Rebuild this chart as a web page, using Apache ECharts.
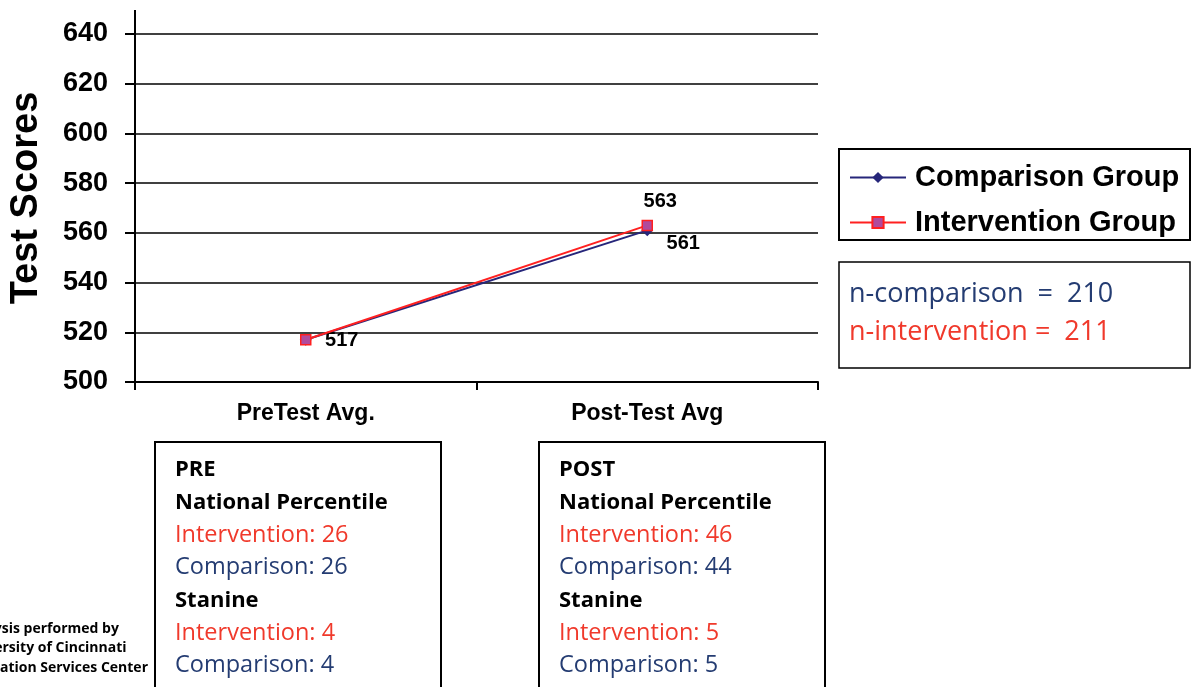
<!DOCTYPE html>
<html><head><meta charset="utf-8">
<script src="https://cdn.jsdelivr.net/npm/echarts@6/dist/echarts.min.js"></script>
<style>html,body{margin:0;padding:0;background:#fff}#c{width:1192px;height:687px}</style>
</head><body><div id="c"></div>
<script>
const categories = ['PreTest Avg.', 'Post-Test Avg'];
const comparison = [517, 561];
const intervention = [517, 563];
const yTicks = {min: 500, max: 640, interval: 20};
const nComparison = 210;
const nIntervention = 211;
const prePercentile = {intervention: 26, comparison: 26};
const preStanine = {intervention: 4, comparison: 4};
const postPercentile = {intervention: 46, comparison: 44};
const postStanine = {intervention: 5, comparison: 5};

const NAVY = '#243c72';
const RED = '#f0392b';
const bodyFont = '"Open Sans", "Noto Sans", sans-serif';
const arial = 'Arial, "Liberation Sans", sans-serif';

function measure(text, font) {
  const ctx = document.createElement('canvas').getContext('2d');
  ctx.font = font;
  return ctx.measureText(text).width;
}

function boxGraphic(x, title, pct, stn) {
  const lines = [
    {t: title, c: '#000', w: 'bold', s: 22},
    {t: 'National Percentile', c: '#000', w: 'bold', s: 22},
    {t: 'Intervention: ' + pct.intervention, c: RED, w: 'normal', s: 23.5},
    {t: 'Comparison: ' + pct.comparison, c: NAVY, w: 'normal', s: 23.5},
    {t: 'Stanine', c: '#000', w: 'bold', s: 22},
    {t: 'Intervention: ' + stn.intervention, c: RED, w: 'normal', s: 23.5},
    {t: 'Comparison: ' + stn.comparison, c: NAVY, w: 'normal', s: 23.5}
  ];
  const els = [{type: 'rect', shape: {x: x, y: 442, width: 286, height: 270}, style: {fill: '#fff', stroke: '#000', lineWidth: 2}}];
  lines.forEach((l, i) => {
    els.push({type: 'text', x: x + 20, y: 470 + i * 32.6, style: {text: l.t, fill: l.c, font: l.w + ' ' + l.s + 'px ' + bodyFont, textVerticalAlign: 'middle'}});
  });
  return els;
}

const creditFont = 'bold 14px ' + bodyFont;
const creditX = 148 - measure('Evaluation Services Center', creditFont);

const chart = echarts.init(document.getElementById('c'));
chart.setOption({
  animation: false,
  grid: {left: 135, right: 374, top: 34, bottom: 305},
  legend: {
    orient: 'vertical', left: 849, top: 163,
    padding: 0, itemGap: 16, itemWidth: 56, itemHeight: 14,
    textStyle: {fontFamily: arial, fontWeight: 'bold', fontSize: 29, color: '#000', padding: [0, 0, 0, 4]},
    data: ['Comparison Group', 'Intervention Group']
  },
  xAxis: {
    type: 'category', data: categories, boundaryGap: true,
    axisLine: {lineStyle: {color: '#000', width: 2}},
    axisTick: {show: true, length: 8, lineStyle: {color: '#000', width: 2}},
    axisLabel: {color: '#000', fontFamily: arial, fontWeight: 'bold', fontSize: 23, margin: 20}
  },
  yAxis: {
    type: 'value', min: yTicks.min, max: yTicks.max, interval: yTicks.interval,
    axisLine: {show: true, lineStyle: {color: '#000', width: 2}},
    axisTick: {show: true, length: 10, lineStyle: {color: '#000', width: 2}},
    splitLine: {show: true, lineStyle: {color: '#000', width: 1.5}},
    axisLabel: {color: '#000', fontFamily: arial, fontWeight: 'bold', fontSize: 27, margin: 27}
  },
  graphic: [
    {type: 'line', shape: {x1: 135, y1: 10, x2: 135, y2: 35}, style: {stroke: '#000', lineWidth: 2}},
    {type: 'text', x: 27, y: 198, rotation: Math.PI / 2, style: {text: 'Test Scores', font: 'bold 38px ' + arial, fill: '#000', textAlign: 'center', textVerticalAlign: 'middle'}},
    {type: 'rect', shape: {x: 839, y: 149, width: 351, height: 91}, style: {fill: 'none', stroke: '#000', lineWidth: 2}},
    {type: 'rect', shape: {x: 839, y: 262, width: 351, height: 106}, style: {fill: '#fff', stroke: '#000', lineWidth: 1.5}},
    {type: 'text', x: 849, y: 294, style: {text: 'n-comparison  =  ' + nComparison, fill: NAVY, font: '27px ' + bodyFont, textVerticalAlign: 'middle'}},
    {type: 'text', x: 849, y: 332, style: {text: 'n-intervention =  ' + nIntervention, fill: RED, font: '27px ' + bodyFont, textVerticalAlign: 'middle'}},
    {type: 'text', x: creditX, y: 629, style: {text: 'Analysis performed by', fill: '#000', font: creditFont, textAlign: 'left', textVerticalAlign: 'middle'}},
    {type: 'text', x: creditX, y: 648, style: {text: 'University of Cincinnati', fill: '#000', font: creditFont, textAlign: 'left', textVerticalAlign: 'middle'}},
    {type: 'text', x: creditX, y: 668, style: {text: 'Evaluation Services Center', fill: '#000', font: creditFont, textAlign: 'left', textVerticalAlign: 'middle'}}
  ].concat(boxGraphic(155, 'PRE', prePercentile, preStanine), boxGraphic(539, 'POST', postPercentile, postStanine)),
  series: [
    {
      name: 'Comparison Group', type: 'line', data: comparison.map((v, i) => ({
        value: v,
        label: {show: true, position: 'inside', offset: i === 0 ? [36, 1] : [36, 13]}
      })),
      symbol: 'diamond', symbolSize: 12,
      lineStyle: {color: '#26267a', width: 2},
      itemStyle: {color: '#26267a'},
      label: {color: '#000', fontFamily: arial, fontWeight: 'bold', fontSize: 20},
      z: 2
    },
    {
      name: 'Intervention Group', type: 'line', data: intervention.map((v, i) => ({
        value: v,
        label: {show: i === 1, position: 'inside', offset: [13, -24]}
      })),
      symbol: 'rect', symbolSize: 10,
      lineStyle: {color: '#ff2020', width: 2},
      itemStyle: {color: '#b04a9c', borderColor: '#ff2020', borderWidth: 1.5},
      label: {color: '#000', fontFamily: arial, fontWeight: 'bold', fontSize: 20},
      z: 3
    }
  ]
});
</script></body></html>
